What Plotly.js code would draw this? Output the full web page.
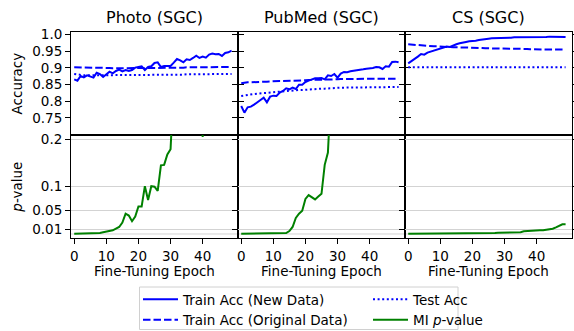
<!DOCTYPE html>
<html><head><meta charset="utf-8">
<script src="https://cdn.plot.ly/plotly-3.0.1.min.js"></script>
<style>html,body{margin:0;padding:0;background:#fff}#chart{width:574px;height:331px}</style>
</head><body><div id="chart"></div>
<script>
const epochs = Array.from({length: 50}, (_, i) => i);
const panelTitles = ["Photo (SGC)", "PubMed (SGC)", "CS (SGC)"];
const accTickVals = [0.75, 0.8, 0.85, 0.9, 0.95, 1.0];
const accTickText = ["0.75", "0.8", "0.85", "0.9", "0.95", "1.0"];
const pTickVals = [0.01, 0.05, 0.1, 0.2];
const pTickText = ["0.01", "0.05", "0.1", "0.2"];
const xTickVals = [0, 10, 20, 30, 40];

const photoNew = [0.866,0.862,0.876,0.872,0.878,0.874,0.871,0.886,0.882,0.873,0.880,0.889,0.884,0.891,0.895,0.890,0.894,0.891,0.894,0.901,0.903,0.905,0.894,0.903,0.905,0.915,0.917,0.903,0.906,0.905,0.906,0.916,0.927,0.923,0.917,0.926,0.924,0.930,0.937,0.930,0.934,0.931,0.940,0.943,0.941,0.942,0.936,0.945,0.947,0.952];
const photoOrig = [0.902,0.902,0.902,0.901,0.901,0.901,0.901,0.900,0.900,0.900,0.900,0.900,0.899,0.899,0.899,0.899,0.899,0.899,0.899,0.899,0.899,0.899,0.899,0.900,0.900,0.900,0.900,0.900,0.900,0.900,0.901,0.901,0.901,0.901,0.901,0.902,0.902,0.902,0.902,0.902,0.902,0.902,0.903,0.903,0.903,0.903,0.903,0.903,0.903,0.903];
const photoTest = [0.882,0.880,0.879,0.878,0.878,0.878,0.878,0.878,0.878,0.878,0.878,0.878,0.878,0.878,0.878,0.878,0.878,0.878,0.878,0.878,0.879,0.879,0.879,0.879,0.879,0.879,0.879,0.879,0.880,0.880,0.880,0.880,0.880,0.880,0.880,0.881,0.881,0.881,0.881,0.881,0.881,0.882,0.882,0.882,0.882,0.882,0.882,0.882,0.882,0.882];
const photoP = [0.0007,0.0007,0.0007,0.0007,0.0007,0.0007,0.0008,0.0012,0.0021,0.0035,0.0049,0.0063,0.0077,0.0113,0.0148,0.024,0.043,0.039,0.027,0.037,0.058,0.058,0.101,0.072,0.101,0.100,0.091,0.145,0.146,0.168,0.179,0.32,0.41,0.38,0.47,0.52,0.45,0.58,0.49,0.40,0.205,0.44,0.55,0.61,0.52,0.64,0.58,0.67,0.71,0.66];

const pubNew = [0.786,0.766,0.782,0.784,0.790,0.796,0.804,0.811,0.797,0.814,0.817,0.816,0.826,0.831,0.839,0.836,0.841,0.837,0.850,0.850,0.858,0.862,0.865,0.869,0.869,0.870,0.866,0.878,0.876,0.882,0.871,0.883,0.888,0.887,0.890,0.891,0.893,0.895,0.896,0.898,0.898,0.900,0.903,0.902,0.897,0.905,0.904,0.918,0.919,0.917];
const pubOrig = [0.854,0.856,0.857,0.857,0.858,0.858,0.859,0.859,0.859,0.860,0.860,0.860,0.861,0.861,0.861,0.862,0.862,0.862,0.863,0.863,0.863,0.864,0.864,0.864,0.865,0.865,0.865,0.866,0.866,0.866,0.866,0.867,0.867,0.867,0.867,0.867,0.867,0.868,0.868,0.868,0.868,0.868,0.868,0.868,0.868,0.868,0.868,0.868,0.868,0.868];
const pubTest = [0.816,0.818,0.820,0.821,0.822,0.823,0.824,0.825,0.826,0.827,0.828,0.829,0.830,0.831,0.831,0.832,0.833,0.833,0.834,0.834,0.835,0.836,0.836,0.837,0.837,0.838,0.838,0.839,0.839,0.840,0.840,0.841,0.841,0.841,0.841,0.842,0.842,0.842,0.842,0.842,0.842,0.842,0.842,0.842,0.842,0.842,0.842,0.843,0.843,0.843];
const pubP = [0.0007,0.0007,0.0007,0.0007,0.0007,0.0007,0.0007,0.0007,0.0007,0.0007,0.0007,0.0007,0.0007,0.0008,0.0021,0.0063,0.0148,0.034,0.043,0.049,0.074,0.082,0.078,0.073,0.079,0.085,0.146,0.172,0.31,0.38,0.45,0.51,0.48,0.56,0.60,0.58,0.63,0.66,0.62,0.68,0.70,0.67,0.72,0.74,0.71,0.76,0.78,0.75,0.79,0.80];

const csNew = [0.914,0.920,0.928,0.934,0.942,0.940,0.946,0.949,0.952,0.954,0.956,0.960,0.964,0.963,0.968,0.971,0.974,0.977,0.978,0.980,0.980,0.982,0.984,0.986,0.988,0.988,0.989,0.989,0.990,0.990,0.991,0.990,0.991,0.992,0.992,0.991,0.992,0.993,0.992,0.993,0.992,0.993,0.992,0.993,0.994,0.994,0.994,0.994,0.993,0.993];
const csOrig = [0.971,0.970,0.969,0.968,0.967,0.967,0.966,0.966,0.965,0.965,0.964,0.964,0.963,0.963,0.962,0.962,0.962,0.961,0.961,0.961,0.960,0.960,0.960,0.960,0.959,0.959,0.959,0.959,0.958,0.958,0.958,0.958,0.958,0.957,0.957,0.957,0.957,0.957,0.956,0.956,0.956,0.956,0.956,0.956,0.956,0.955,0.955,0.955,0.955,0.955];
const csTest = [0.902,0.902,0.902,0.902,0.902,0.902,0.902,0.902,0.902,0.902,0.902,0.902,0.902,0.902,0.902,0.902,0.902,0.902,0.902,0.902,0.902,0.902,0.902,0.902,0.902,0.902,0.902,0.902,0.902,0.902,0.902,0.902,0.902,0.902,0.902,0.902,0.902,0.902,0.902,0.902,0.902,0.902,0.902,0.902,0.902,0.902,0.902,0.902,0.902,0.902];
const csP = [0.0007,0.0007,0.0007,0.0007,0.0007,0.0007,0.0007,0.0007,0.0007,0.0007,0.0007,0.0007,0.0007,0.0007,0.0007,0.0007,0.0007,0.0007,0.0007,0.0007,0.0008,0.0010,0.0011,0.0012,0.0013,0.0014,0.0016,0.0020,0.0025,0.0028,0.0030,0.0030,0.0030,0.0030,0.0032,0.0035,0.0056,0.0063,0.0070,0.0074,0.0077,0.0077,0.0077,0.0085,0.0090,0.0110,0.0140,0.0176,0.0204,0.0204];

const seriesNames = ["Train Acc (New Data)", "Train Acc (Original Data)", "Test Acc", "MI <i>p</i>-value"];
const datasets = [
  {newAcc: photoNew, origAcc: photoOrig, testAcc: photoTest, p: photoP},
  {newAcc: pubNew, origAcc: pubOrig, testAcc: pubTest, p: pubP},
  {newAcc: csNew, origAcc: csOrig, testAcc: csTest, p: csP}
];

const BLUE = "#0000ff", GREEN = "#008000";
const W = 574, H = 331;
const colEdges = [71, 238, 405, 572];
const topY = [32.3, 135], botY = [135, 238.3];
const fx = v => v / W, fy = v => (H - v) / H;

const traces = [];
datasets.forEach((d, i) => {
  const xa = "x" + (i + 1), ya = "y" + (i + 1);
  const xb = "x" + (i + 4), yb = "y" + (i + 4);
  const show = i === 0;
  traces.push({x: epochs, y: d.newAcc, xaxis: xa, yaxis: ya, type: "scatter", mode: "lines", name: seriesNames[0], legend: "legend", showlegend: show, line: {color: BLUE, width: 2}});
  traces.push({x: epochs, y: d.origAcc, xaxis: xa, yaxis: ya, type: "scatter", mode: "lines", name: seriesNames[1], legend: "legend", showlegend: show, line: {color: BLUE, width: 2, dash: "7.5px,3px"}});
  traces.push({x: epochs, y: d.testAcc, xaxis: xa, yaxis: ya, type: "scatter", mode: "lines", name: seriesNames[2], legend: "legend2", showlegend: show, line: {color: BLUE, width: 2, dash: "2px,2.6px"}});
  traces.push({x: epochs, y: d.p, xaxis: xb, yaxis: yb, type: "scatter", mode: "lines", name: seriesNames[3], legend: "legend2", showlegend: show, line: {color: GREEN, width: 2}});
});

const font = {family: "DejaVu Sans", size: 13.5, color: "#000"};
const legFont = {family: "DejaVu Sans", size: 13.5, color: "#000"};
const layout = {
  width: W, height: H,
  margin: {l: 0, r: 0, t: 0, b: 0, autoexpand: false},
  paper_bgcolor: "#fff", plot_bgcolor: "#fff",
  font: font,
  showlegend: true,
  legend: {orientation: "v", x: fx(138), xanchor: "left", y: fy(284), yanchor: "top", bgcolor: "rgba(0,0,0,0)", borderwidth: 0, font: legFont, traceorder: "normal", itemwidth: 35},
  legend2: {orientation: "v", x: fx(368), xanchor: "left", y: fy(284), yanchor: "top", bgcolor: "rgba(0,0,0,0)", borderwidth: 0, font: legFont, traceorder: "normal", itemwidth: 35},
  annotations: [],
  shapes: [{type: "rect", xref: "paper", yref: "paper", x0: fx(139.5), x1: fx(458), y0: fy(329.5), y1: fy(287), layer: "above",
    fillcolor: "rgba(255,255,255,0.85)", line: {color: "#d0d0d0", width: 1}}]
};

for (let i = 0; i < 3; i++) {
  const dom = [fx(colEdges[i]), fx(colEdges[i + 1])];
  const common = {linecolor: "#000", linewidth: 1, mirror: true, zeroline: false, showgrid: false, range: [-1, 51], tickvals: xTickVals, automargin: false};
  layout["xaxis" + (i + 1)] = Object.assign({}, common, {domain: dom, anchor: "y" + (i + 1), showticklabels: false, ticks: "", matches: "x" + (i + 4)});
  layout["xaxis" + (i + 4)] = Object.assign({}, common, {domain: dom, anchor: "y" + (i + 4), ticks: "outside", ticklen: 5, tickcolor: "#000", tickfont: font,
    title: {text: "Fine-Tuning Epoch", font: font, standoff: 3}});
  layout["yaxis" + (i + 1)] = {domain: [fy(topY[1]), fy(topY[0])], anchor: "x" + (i + 1), range: [0.699, 1.007],
    tickvals: accTickVals, ticktext: accTickText, ticks: "outside", ticklen: 5, tickcolor: "#000", linecolor: "#000", linewidth: 1,
    mirror: "ticks", showgrid: false, zeroline: false, showticklabels: i === 0, tickfont: font, automargin: false,
    title: i === 0 ? {text: "Accuracy", font: font, standoff: 6} : undefined};
  layout["yaxis" + (i + 4)] = {domain: [fy(botY[1]), fy(botY[0])], anchor: "x" + (i + 4), range: [-0.0091, 0.2091],
    tickvals: pTickVals, ticktext: pTickText, ticks: "outside", ticklen: 5, tickcolor: "#000", linecolor: "#000", linewidth: 1,
    mirror: "ticks", showgrid: true, gridcolor: "#d3d3d3", gridwidth: 1, zeroline: false, showticklabels: i === 0, tickfont: font, automargin: false,
    title: i === 0 ? {text: "<i>p</i>-value", font: font, standoff: 6} : undefined};
  layout.annotations.push({text: panelTitles[i], xref: "paper", yref: "paper", x: (dom[0] + dom[1]) / 2, y: fy(17), xanchor: "center", yanchor: "middle",
    showarrow: false, font: {family: "DejaVu Sans", size: 16, color: "#000"}});
  layout.shapes.push({type: "line", xref: "x" + (i + 4) + " domain", yref: "y" + (i + 4), x0: 0, x1: 1, y0: 0, y1: 0, layer: "below", line: {color: "#d3d3d3", width: 1}});
}

Plotly.newPlot("chart", traces, layout, {staticPlot: true, displayModeBar: false});
</script></body></html>
